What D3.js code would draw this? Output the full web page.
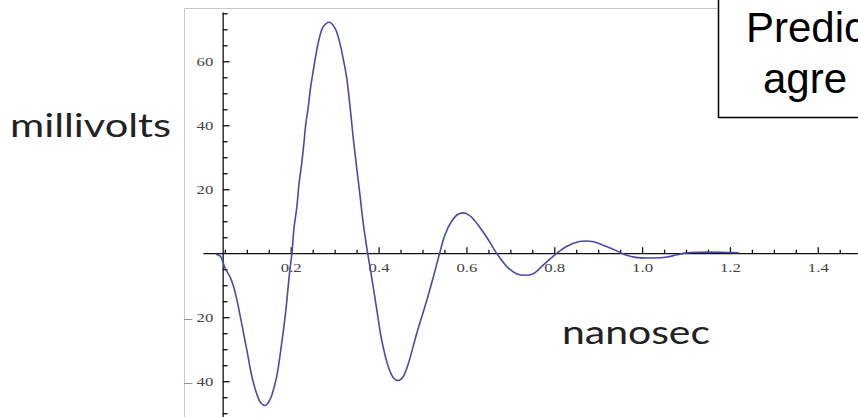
<!DOCTYPE html>
<html>
<head>
<meta charset="utf-8">
<script src="https://cdn.jsdelivr.net/npm/d3@7"></script>
<style>
  html, body { margin: 0; padding: 0; background: #fff; }
  svg { display: block; }
</style>
</head>
<body>
<div id="chart"></div>
<script>
// waveform (ns, mV)
var time_ns = [0.030, 0.040, 0.050, 0.062, 0.070, 0.078, 0.088, 0.100, 0.111, 0.122,
  0.132, 0.142, 0.150, 0.157, 0.168, 0.179, 0.189, 0.197, 0.203, 0.207,
  0.214, 0.219, 0.225, 0.230, 0.234, 0.240, 0.245, 0.251, 0.258, 0.265,
  0.274, 0.288, 0.301, 0.312, 0.320, 0.327, 0.335, 0.342, 0.349, 0.358,
  0.365, 0.374, 0.384, 0.396, 0.407, 0.422, 0.434, 0.445, 0.456, 0.468,
  0.487, 0.510, 0.525, 0.540, 0.551, 0.566, 0.580, 0.593, 0.606, 0.618,
  0.632, 0.648, 0.663, 0.678, 0.695, 0.714, 0.733, 0.752, 0.775, 0.806,
  0.828, 0.855, 0.872, 0.889, 0.919, 0.946, 0.961, 0.985, 1.020, 1.056,
  1.079, 1.100, 1.130, 1.180, 1.220];
var millivolts = [-0.3, -1.0, -4.5, -7.5, -10.5, -15.0, -21.8, -30.2, -38.2, -43.7,
  -46.8, -47.6, -46.5, -44.3, -38.6, -28.5, -17.7, -6.5, 0.5, 7.3,
  14.6, 21.9, 28.1, 34.4, 40.1, 45.8, 51.6, 56.8, 62.5, 67.2,
  70.8, 72.2, 70.3, 65.6, 60.4, 55.2, 45.8, 36.4, 28.1, 17.7,
  9.4, 1.0, -7.3, -17.7, -27.1, -35.4, -39.0, -39.8, -38.6, -34.4,
  -25.0, -14.6, -7.3, 0.5, 5.7, 9.9, 12.1, 12.6, 11.9, 10.3,
  7.8, 4.6, 1.2, -1.8, -4.6, -6.4, -6.9, -6.4, -3.7, 0.0,
  2.1, 3.6, 3.8, 3.6, 2.1, 0.5, -0.5, -1.3, -1.5, -1.2,
  -0.5, 0.1, 0.3, 0.3, 0.15];

var x_major_ticks = [0.2, 0.4, 0.6, 0.8, 1.0, 1.2, 1.4];
var y_major_ticks = [-40, -20, 20, 40, 60];
var y_axis_name = "millivolts";
var x_axis_name = "nanosec";
var note_lines = ["Predic", "agre"];

var width = 858, height = 417;

// minor ticks every 0.05 ns and every 5 mV
var x_minor_ticks = d3.range(1, 31).filter(function (i) { return i % 4 !== 0; })
  .map(function (i) { return i / 20; });
var y_minor_ticks = d3.range(-10, 16).filter(function (i) { return i % 4 !== 0; })
  .map(function (i) { return i * 5; });

var x = d3.scaleLinear().domain([0, 1.5]).range([202.9, 861.7]);
var y = d3.scaleLinear().domain([-51.2, 75.4]).range([417, 12]);
var y_axis_at = 0.045;

var svg = d3.select("#chart")
  .append("svg")
  .attr("width", width)
  .attr("height", height);

// gray frame of the pasted plot
svg.append("path")
  .attr("d", "M184.5,417V8.5H718")
  .attr("fill", "none")
  .attr("stroke", "#c8c8c8")
  .attr("stroke-width", 1);

var tick_font = function (sel) {
  sel.selectAll("text")
    .attr("font-family", "Liberation Serif, serif")
    .attr("font-size", 12)
    .attr("fill", "#444")
    .attr("transform", "scale(1.4,1)");
};

// x axis
var gx = svg.append("g")
  .attr("transform", "translate(0," + y(0) + ")");
gx.append("g")
  .call(d3.axisBottom(x).tickValues(x_minor_ticks).tickSizeInner(-3.5).tickSizeOuter(0).tickFormat(""))
  .call(function (g) { g.select(".domain").remove(); });
gx.append("g")
  .call(d3.axisBottom(x).tickValues(x_major_ticks).tickSizeInner(-6).tickSizeOuter(0)
    .tickPadding(10).tickFormat(d3.format(".1f")))
  .call(tick_font);

// y axis
var gy = svg.append("g")
  .attr("transform", "translate(" + x(y_axis_at) + ",0)");
gy.append("g")
  .call(d3.axisLeft(y).tickValues(y_minor_ticks).tickSizeInner(-5).tickSizeOuter(0).tickFormat(""))
  .call(function (g) { g.select(".domain").remove(); });
gy.append("g")
  .call(d3.axisLeft(y).tickValues(y_major_ticks).tickSizeInner(-7).tickSizeOuter(0)
    .tickPadding(6.7).tickFormat(function (d) { return d < 0 ? "\u2013 " + (-d) : d; }))
  .call(tick_font);

svg.selectAll(".domain, .tick line")
  .attr("stroke", "#111")
  .attr("stroke-width", 1.3);

// the waveform
var points = time_ns.map(function (t, i) { return { t: t, v: millivolts[i] }; });
svg.append("path")
  .datum(points)
  .attr("fill", "none")
  .attr("stroke", "#4a4aa6")
  .attr("stroke-width", 1.6)
  .attr("d", d3.line()
    .x(function (d) { return x(d.t); })
    .y(function (d) { return y(d.v); })
    .curve(d3.curveCatmullRom.alpha(0.5)));

// axis names
svg.append("text")
  .attr("x", 10).attr("y", 137)
  .attr("font-family", "Lato, sans-serif")
  .attr("font-size", 32)
  .attr("fill", "#222")
  .attr("textLength", 161)
  .attr("lengthAdjust", "spacingAndGlyphs")
  .text(y_axis_name);
svg.append("text")
  .attr("x", 562).attr("y", 344)
  .attr("font-family", "Lato, sans-serif")
  .attr("font-size", 32)
  .attr("fill", "#222")
  .attr("textLength", 148)
  .attr("lengthAdjust", "spacingAndGlyphs")
  .text(x_axis_name);

// callout box, cut by the right edge
svg.append("rect")
  .attr("x", 718.5).attr("y", -2)
  .attr("width", 200).attr("height", 119.5)
  .attr("fill", "#fff")
  .attr("stroke", "#000")
  .attr("stroke-width", 1.5);
svg.selectAll(".note")
  .data(note_lines)
  .enter()
  .append("text")
  .attr("class", "note")
  .attr("x", function (d, i) { return i === 0 ? 746 : 763; })
  .attr("y", function (d, i) { return i === 0 ? 42 : 93; })
  .attr("font-family", "Liberation Sans, Arial, sans-serif")
  .attr("font-size", 42)
  .attr("fill", "#000")
  .text(function (d) { return d; });
</script>
</body>
</html>
